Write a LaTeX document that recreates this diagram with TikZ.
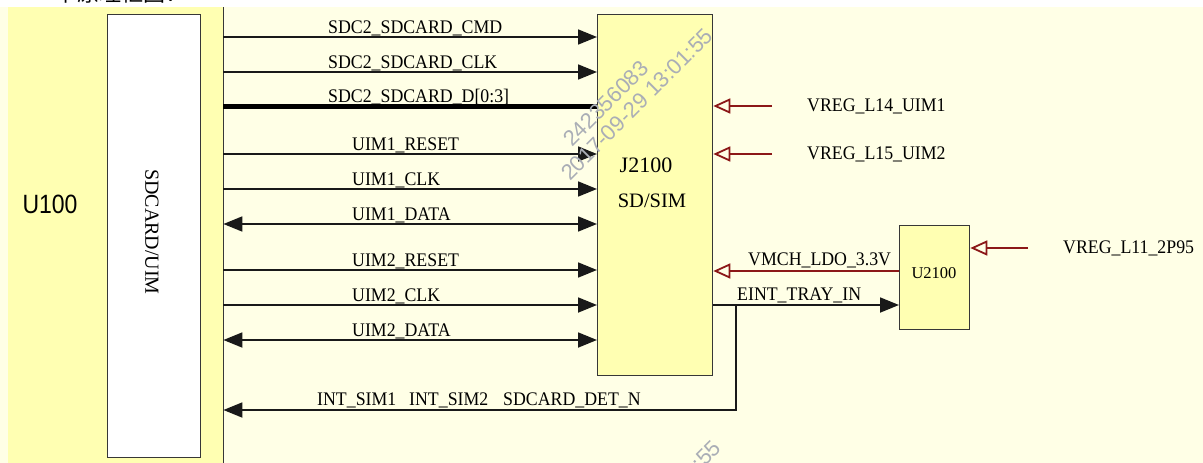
\documentclass[tikz,border=0pt]{standalone}
\usepackage{fontspec}
\setmainfont{Liberation Serif}
\newfontfamily\sansf{Liberation Sans}
\newfontfamily\cjkf{Noto Sans CJK SC}
\usetikzlibrary{arrows.meta}
\definecolor{bgc}{RGB}{255,255,230}
\definecolor{yel}{RGB}{255,255,178}
\definecolor{dred}{RGB}{140,24,24}
\definecolor{edgec}{RGB}{55,55,55}
\definecolor{wmc}{RGB}{170,174,182}
\begin{document}
\begin{tikzpicture}[x=1pt,y=-1pt,
  sig/.style={line width=1.8pt, draw=black!90},
  bus/.style={line width=5pt, draw=black},
  rsig/.style={line width=1.8pt, draw=dred},
  fa/.style={-{Triangle[length=19pt,width=15pt]}},
  da/.style={{Triangle[length=19pt,width=15pt]}-{Triangle[length=19pt,width=15pt]}},
  oa/.style={-{Triangle[open,length=17pt,width=15pt,line width=1.8pt]}},
  lbl/.style={font=\fontsize{17.8}{20}\selectfont, inner sep=0pt, yscale=1.08},
  box/.style={draw=edgec, line width=1.3pt, fill=yel, inner sep=0pt},
  wm/.style={font=\sansf\fontsize{22}{24}\selectfont, text=wmc, rotate=45, anchor=base west, inner sep=0pt}
]
\useasboundingbox (0,0) rectangle (1203,463);
\begin{scope}
\clip (0,0) rectangle (1203,463);
\fill[white] (0,0) rectangle (1203,463);
\fill[bgc] (0,7) rectangle (1203,470);
\node[font=\cjkf\fontsize{22}{24}\selectfont, anchor=base west, inner sep=0pt] (hdr) at (55,1.5) {卡原理框图：};
% U100 block
\node[fill=yel, inner sep=0pt, minimum width=215pt, minimum height=470pt, anchor=north west] (u100) at (8,7) {};
\draw[edgec, line width=1.3pt] (u100.north east) -- (u100.south east);
\node[draw=edgec, fill=white, line width=1.3pt, inner sep=0pt, minimum width=93pt, minimum height=443pt, anchor=north west] (sdu) at (107,14) {};
\node[font=\fontsize{20}{22}\selectfont, rotate=-90, inner sep=0pt] (sdut) at (152,232) {SDCARD/UIM};
\node[font=\sansf\fontsize{23}{26}\selectfont, inner sep=0pt, yscale=1.15] (u100t) at (50,204) {U100};
% J2100
\node[box, minimum width=115pt, minimum height=361pt, anchor=north west] (j) at (597,14) {};
\node[font=\fontsize{22}{24}\selectfont, inner sep=0pt, anchor=base] (jt) at (646,172) {J2100};
\node[font=\fontsize{20.5}{24}\selectfont, inner sep=0pt, anchor=base] (jt2) at (652,207) {SD/SIM};
% U2100
\node[box, minimum width=70pt, minimum height=104pt, anchor=north west] (u2) at (899,225) {};
\node[font=\fontsize{16.5}{18}\selectfont, inner sep=0pt, anchor=base] (u2t) at (934,278) {U2100};
% left signals
\draw[sig,fa] (u100.east |- 0,37) -- (j.west |- 0,37);
\draw[sig,fa] (u100.east |- 0,72) -- (j.west |- 0,72);
\draw[bus] (u100.east |- 0,106) -- (j.west |- 0,106);
\draw[sig,fa] (u100.east |- 0,154) -- (j.west |- 0,154);
\draw[sig,fa] (u100.east |- 0,189) -- (j.west |- 0,189);
\draw[sig,da] (u100.east |- 0,224) -- (j.west |- 0,224);
\draw[sig,fa] (u100.east |- 0,270) -- (j.west |- 0,270);
\draw[sig,fa] (u100.east |- 0,305) -- (j.west |- 0,305);
\draw[sig,da] (u100.east |- 0,340) -- (j.west |- 0,340);
\node[lbl, anchor=base west] (l1) at (328,33) {SDC2\_SDCARD\_CMD};
\node[lbl, anchor=base west] (l2) at (328,68) {SDC2\_SDCARD\_CLK};
\node[lbl, anchor=base west] (l3) at (328,102) {SDC2\_SDCARD\_D[0:3]};
\node[lbl, anchor=base west] (l4) at (352,150) {UIM1\_RESET};
\node[lbl, anchor=base west] (l5) at (352,185) {UIM1\_CLK};
\node[lbl, anchor=base west] (l6) at (352,220) {UIM1\_DATA};
\node[lbl, anchor=base west] (l7) at (352,266) {UIM2\_RESET};
\node[lbl, anchor=base west] (l8) at (352,301) {UIM2\_CLK};
\node[lbl, anchor=base west] (l9) at (352,336) {UIM2\_DATA};
% detection line
\coordinate (tap) at (736,305);
\draw[sig] (j.east |- 0,305) -- (tap);
\draw[sig,fa] (tap) -- (u2.west |- 0,305);
\draw[sig,fa] (tap) |- (u100.east |- 0,410);
\node[lbl, anchor=base west] (le) at (737,300) {EINT\_TRAY\_IN};
\node[lbl, anchor=base west] (lb1) at (317,405) {INT\_SIM1};
\node[lbl, anchor=base west] (lb2) at (409,405) {INT\_SIM2};
\node[lbl, anchor=base west] (lb3) at (503,405) {SDCARD\_DET\_N};
% power
\coordinate (v14) at (772,106);
\coordinate (v15) at (772,154);
\coordinate (v11) at (1028,248);
\draw[rsig,oa] (v14) -- (j.east |- v14);
\draw[rsig,oa] (v15) -- (j.east |- v15);
\draw[rsig,oa] (u2.west |- 0,271) -- (j.east |- 0,271);
\draw[rsig,oa] (v11) -- (u2.east |- v11);
\node[lbl, anchor=west] (p14) at (807,106) {VREG\_L14\_UIM1};
\node[lbl, anchor=west] (p15) at (807,154) {VREG\_L15\_UIM2};
\node[lbl, anchor=west] (p11) at (1063,248) {VREG\_L11\_2P95};
\node[lbl, anchor=base west] (pv) at (748,265) {VMCH\_LDO\_3.3V};
% watermark
\node[wm] (w1) at (572,148) {242356083};
\node[wm] (w2) at (570,182) {2017-09-29 13:01:55};
\node[wm] (w3) at (580,560) {242356083};
\node[wm] (w4) at (578,594) {2017-09-29 13:01:55};
\end{scope}
\end{tikzpicture}
\end{document}
